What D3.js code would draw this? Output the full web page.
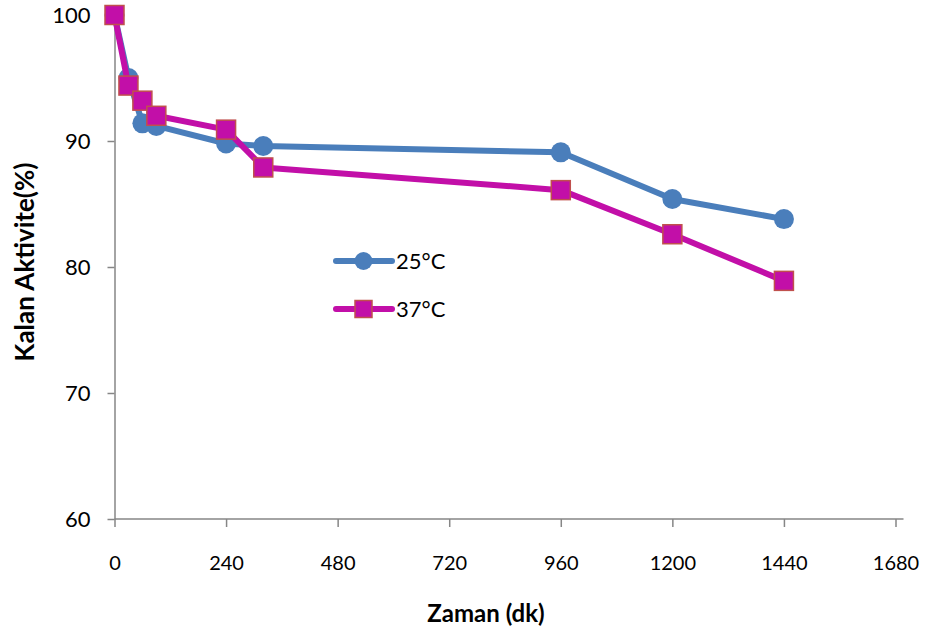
<!DOCTYPE html>
<html>
<head>
<meta charset="utf-8">
<script src="https://cdn.jsdelivr.net/npm/d3@7"></script>
<style>
  html, body { margin: 0; padding: 0; background: #fff; }
  svg { display: block; font-family: Lato, "Open Sans", sans-serif; }
</style>
</head>
<body>
<svg id="chart" width="934" height="636"></svg>
<script>
// Time points (minutes)
const times = [0, 30, 60, 90, 240, 320, 960, 1200, 1440];
// Remaining activity (%) at each time point
const activity25 = [100, 95.0, 91.4, 91.2, 89.8, 89.6, 89.1, 85.4, 83.8];
const activity37 = [100, 94.4, 93.2, 92.0, 90.9, 87.9, 86.1, 82.6, 78.9];
const seriesNames = ["25°C", "37°C"];
const xTicks = [0, 240, 480, 720, 960, 1200, 1440, 1680];
const yTicks = [60, 70, 80, 90, 100];
const xTitle = "Zaman (dk)";
const yTitle = "Kalan Aktivite(%)";

const blue = "#4a7ebb";
const magenta = "#c20fa8";
const squareEdge = "#c0504d";
const axisGrey = "#868686";

const svg = d3.select("#chart");

const x = d3.scaleLinear().domain([0, 1680]).range([114.5, 895.5]);
const y = d3.scaleLinear().domain([60, 100]).range([519, 15]);

// Axes
const xAxis = svg.append("g")
  .attr("transform", `translate(0,${y(60)})`)
  .call(d3.axisBottom(x).tickValues(xTicks).tickFormat(d3.format("d"))
    .tickSize(8).tickSizeOuter(0).tickPadding(29));
const yAxis = svg.append("g")
  .attr("transform", `translate(${x(0)},0)`)
  .call(d3.axisLeft(y).tickValues(yTicks).tickFormat(d3.format("d"))
    .tickSize(7).tickSizeOuter(0).tickPadding(17));

[xAxis, yAxis].forEach(g => {
  g.select(".domain").attr("stroke", axisGrey).attr("stroke-width", 1.5);
  g.selectAll(".tick line").attr("stroke", axisGrey).attr("stroke-width", 1.5);
  g.selectAll(".tick text").attr("fill", "#000").attr("font-family", "Lato, sans-serif");
});
xAxis.selectAll(".tick text").attr("font-size", 20);
yAxis.selectAll(".tick text").attr("font-size", 22).attr("dy", "0.34em");
// horizontal axis line continues a little past the last tick
xAxis.select(".domain").attr("d", `M${x(0)},0H${x(1680) + 8}`);

// Axis titles
svg.append("text")
  .attr("x", 486).attr("y", 622)
  .attr("text-anchor", "middle")
  .attr("font-weight", "bold").attr("font-size", 24)
  .text(xTitle);
svg.append("text")
  .attr("transform", "translate(34,262) rotate(-90)")
  .attr("text-anchor", "middle")
  .attr("font-weight", "bold").attr("font-size", 26)
  .text(yTitle);

const line = d3.line().x(d => x(d[0])).y(d => y(d[1]));
const pts25 = times.map((t, i) => [t, activity25[i]]);
const pts37 = times.map((t, i) => [t, activity37[i]]);

// 25°C series: line with circle markers
svg.append("path").datum(pts25)
  .attr("d", line).attr("fill", "none")
  .attr("stroke", blue).attr("stroke-width", 6).attr("stroke-linejoin", "round");
svg.append("g").selectAll("circle").data(pts25).join("circle")
  .attr("cx", d => x(d[0])).attr("cy", d => y(d[1])).attr("r", 10)
  .attr("fill", blue);

// 37°C series: line with square markers
const sq = 19;
svg.append("path").datum(pts37)
  .attr("d", line).attr("fill", "none")
  .attr("stroke", magenta).attr("stroke-width", 6).attr("stroke-linejoin", "round");
svg.append("g").selectAll("rect").data(pts37).join("rect")
  .attr("x", d => x(d[0]) - sq / 2).attr("y", d => y(d[1]) - sq / 2)
  .attr("width", sq).attr("height", sq)
  .attr("fill", magenta).attr("stroke", squareEdge).attr("stroke-width", 1.5);

// Legend
const legend = svg.append("g");
const legendRows = [
  { name: seriesNames[0], color: blue, yPos: 261, marker: "circle" },
  { name: seriesNames[1], color: magenta, yPos: 309, marker: "square" }
];
legendRows.forEach(r => {
  legend.append("line")
    .attr("x1", 336).attr("x2", 392).attr("y1", r.yPos).attr("y2", r.yPos)
    .attr("stroke", r.color).attr("stroke-width", 6).attr("stroke-linecap", "round");
  if (r.marker === "circle") {
    legend.append("circle").attr("cx", 363.5).attr("cy", r.yPos).attr("r", 9).attr("fill", r.color);
  } else {
    legend.append("rect").attr("x", 363.5 - 8.5).attr("y", r.yPos - 8.5)
      .attr("width", 17).attr("height", 17)
      .attr("fill", r.color).attr("stroke", squareEdge).attr("stroke-width", 1.5);
  }
  legend.append("text")
    .attr("x", 396).attr("y", r.yPos).attr("dy", "0.35em")
    .attr("font-size", 22)
    .text(r.name);
});
</script>
</body>
</html>
